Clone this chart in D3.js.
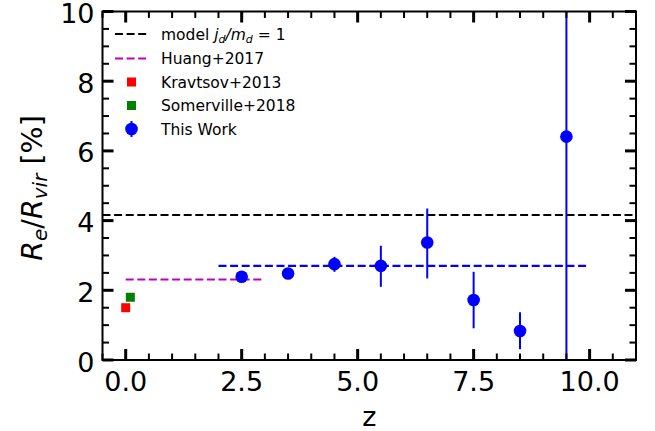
<!DOCTYPE html>
<html>
<head>
<meta charset="utf-8">
<script src="https://cdn.jsdelivr.net/npm/d3@7"></script>
<style>
  html, body { margin: 0; padding: 0; background: #fff; }
  svg { display: block; font-family: "DejaVu Sans", sans-serif; }
</style>
</head>
<body>
<script>
// Redshift bins and measured effective-to-virial radius ratio (%)
const zBins = [2.5, 3.5, 4.5, 5.5, 6.5, 7.5, 8.5, 9.5];
const ratio = [2.39, 2.48, 2.75, 2.70, 3.37, 1.72, 0.83, 6.41];
const errLow = [0.10, 0.10, 0.22, 0.60, 1.03, 0.81, 0.52, 6.6];
const errHigh = [0.10, 0.10, 0.21, 0.58, 0.98, 0.81, 0.54, 6.0];

// Reference values from the literature
const kravtsov = [{ z: 0.0, r: 1.50 }];
const somerville = [{ z: 0.1, r: 1.80 }];
const huangLine = [{ z: 0.0, r: 2.31 }, { z: 3.0, r: 2.31 }];
const modelLine = [{ z: -0.5, r: 4.16 }, { z: 11.0, r: 4.16 }];
const meanLine = [{ z: 2.0, r: 2.70 }, { z: 10.0, r: 2.70 }];

const xTicks = [0, 2.5, 5, 7.5, 10];
const xTickLabels = ["0.0", "2.5", "5.0", "7.5", "10.0"];
const yTicks = [0, 2, 4, 6, 8, 10];
const yTickLabels = ["0", "2", "4", "6", "8", "10"];

const W = 655, H = 431;
const pL = 102.5, pR = 636, pT = 11.5, pB = 360;
const dash = "8,3.6";

const svg = d3.select("body").append("svg").attr("width", W).attr("height", H);

const x = d3.scaleLinear().domain([-0.5, 11]).range([pL, pR]);
const y = d3.scaleLinear().domain([0, 10]).range([pB, pT]);

svg.append("clipPath").attr("id", "plot")
  .append("rect").attr("x", pL).attr("y", pT)
  .attr("width", pR - pL).attr("height", pB - pT);

const plot = svg.append("g").attr("clip-path", "url(#plot)");
const line = d3.line().x(d => x(d.z)).y(d => y(d.r));

// Horizontal reference lines
plot.append("path").datum(modelLine).attr("d", line)
  .attr("fill", "none").attr("stroke", "#000").attr("stroke-width", 2.1)
  .attr("stroke-dasharray", dash);
plot.append("path").datum(huangLine).attr("d", line)
  .attr("fill", "none").attr("stroke", "#bf00bf").attr("stroke-width", 2.1)
  .attr("stroke-dasharray", dash);
plot.append("path").datum(meanLine).attr("d", line)
  .attr("fill", "none").attr("stroke", "#0000ff").attr("stroke-width", 2.1)
  .attr("stroke-dasharray", dash);

// Literature squares
const sq = 9;
plot.selectAll("rect.krav").data(kravtsov).join("rect").attr("class", "krav")
  .attr("x", d => x(d.z) - sq / 2).attr("y", d => y(d.r) - sq / 2)
  .attr("width", sq).attr("height", sq).attr("fill", "#ff0000");
plot.selectAll("rect.som").data(somerville).join("rect").attr("class", "som")
  .attr("x", d => x(d.z) - sq / 2).attr("y", d => y(d.r) - sq / 2)
  .attr("width", sq).attr("height", sq).attr("fill", "#008000");

// Measurements with error bars
const pts = zBins.map((z, i) => ({ z, r: ratio[i], lo: ratio[i] - errLow[i], hi: ratio[i] + errHigh[i] }));
plot.selectAll("line.err").data(pts).join("line").attr("class", "err")
  .attr("x1", d => x(d.z)).attr("x2", d => x(d.z))
  .attr("y1", d => y(d.lo)).attr("y2", d => y(d.hi))
  .attr("stroke", "#0000ff").attr("stroke-width", 2);
plot.selectAll("circle.pt").data(pts).join("circle").attr("class", "pt")
  .attr("cx", d => x(d.z)).attr("cy", d => y(d.r)).attr("r", 6.3)
  .attr("fill", "#0000ff");

// Frame
svg.append("rect").attr("x", pL).attr("y", pT)
  .attr("width", pR - pL).attr("height", pB - pT)
  .attr("fill", "none").attr("stroke", "#000").attr("stroke-width", 2);

// Inward ticks on all four sides
const ax = svg.append("g").attr("stroke", "#000");
const xMinor = d3.range(-0.5, 11.01, 0.5).filter(v => !xTicks.includes(v));
const yMinor = d3.range(0, 10.01, 0.5).filter(v => !yTicks.includes(v));
const majL = 11, minL = 6.5;
xTicks.forEach(v => {
  ax.append("line").attr("x1", x(v)).attr("x2", x(v)).attr("y1", pB).attr("y2", pB - majL).attr("stroke-width", 3);
  ax.append("line").attr("x1", x(v)).attr("x2", x(v)).attr("y1", pT).attr("y2", pT + majL).attr("stroke-width", 3);
});
xMinor.forEach(v => {
  ax.append("line").attr("x1", x(v)).attr("x2", x(v)).attr("y1", pB).attr("y2", pB - minL).attr("stroke-width", 2);
  ax.append("line").attr("x1", x(v)).attr("x2", x(v)).attr("y1", pT).attr("y2", pT + minL).attr("stroke-width", 2);
});
yTicks.forEach(v => {
  ax.append("line").attr("y1", y(v)).attr("y2", y(v)).attr("x1", pL).attr("x2", pL + majL).attr("stroke-width", 3);
  ax.append("line").attr("y1", y(v)).attr("y2", y(v)).attr("x1", pR).attr("x2", pR - majL).attr("stroke-width", 3);
});
yMinor.forEach(v => {
  ax.append("line").attr("y1", y(v)).attr("y2", y(v)).attr("x1", pL).attr("x2", pL + minL).attr("stroke-width", 2);
  ax.append("line").attr("y1", y(v)).attr("y2", y(v)).attr("x1", pR).attr("x2", pR - minL).attr("stroke-width", 2);
});

// Tick labels
const tickFont = 27;
svg.selectAll("text.xt").data(xTicks).join("text").attr("class", "xt")
  .attr("x", d => x(d)).attr("y", 391).attr("text-anchor", "middle")
  .attr("font-size", tickFont).text((d, i) => xTickLabels[i]);
svg.selectAll("text.yt").data(yTicks).join("text").attr("class", "yt")
  .attr("x", pL - 8).attr("y", d => y(d) + 11.5).attr("text-anchor", "end")
  .attr("font-size", tickFont).text((d, i) => yTickLabels[i]);

// Axis labels
svg.append("text").attr("x", (pL + pR) / 2).attr("y", 426)
  .attr("text-anchor", "middle").attr("font-size", tickFont).text("z");
const yl = svg.append("text").attr("transform", `translate(42,188) rotate(-90)`)
  .attr("text-anchor", "middle").attr("font-size", 28.5);
yl.append("tspan").attr("font-style", "italic").text("R");
yl.append("tspan").attr("font-style", "italic").attr("font-size", 20).attr("dy", 5).text("e");
yl.append("tspan").attr("dy", -5).text("/");
yl.append("tspan").attr("font-style", "italic").text("R");
yl.append("tspan").attr("font-style", "italic").attr("font-size", 20).attr("dy", 5).text("vir");
yl.append("tspan").attr("dy", -5).text(" [%]");

// Legend
const lg = svg.append("g");
const lgFont = 15.5;
const rowY = [34, 58.5, 82, 105.5, 129];
const lx0 = 115, lx1 = 147, tx = 161;
["#000", "#bf00bf"].forEach((c, i) => {
  lg.append("line").attr("x1", lx0).attr("x2", lx1).attr("y1", rowY[i]).attr("y2", rowY[i])
    .attr("stroke", c).attr("stroke-width", 2.1).attr("stroke-dasharray", dash);
});
lg.append("rect").attr("x", 131.5 - sq / 2).attr("y", rowY[2] - sq / 2).attr("width", sq).attr("height", sq).attr("fill", "#ff0000");
lg.append("rect").attr("x", 131.5 - sq / 2).attr("y", rowY[3] - sq / 2).attr("width", sq).attr("height", sq).attr("fill", "#008000");
lg.append("line").attr("x1", 131.5).attr("x2", 131.5).attr("y1", rowY[4] - 8).attr("y2", rowY[4] + 8)
  .attr("stroke", "#0000ff").attr("stroke-width", 2);
lg.append("circle").attr("cx", 131.5).attr("cy", rowY[4]).attr("r", 6.3).attr("fill", "#0000ff");

const t0 = lg.append("text").attr("x", tx).attr("y", rowY[0] + 5.5).attr("font-size", lgFont);
t0.append("tspan").text("model ");
t0.append("tspan").attr("font-style", "italic").text("j");
t0.append("tspan").attr("font-style", "italic").attr("font-size", 11).attr("dy", 3).text("d");
t0.append("tspan").attr("dy", -3).attr("font-style", "italic").text("/m");
t0.append("tspan").attr("font-style", "italic").attr("font-size", 11).attr("dy", 3).text("d");
t0.append("tspan").attr("dy", -3).text(" = 1");
["Huang+2017", "Kravtsov+2013", "Somerville+2018", "This Work"].forEach((s, i) => {
  lg.append("text").attr("x", tx).attr("y", rowY[i + 1] + 5.5).attr("font-size", lgFont).text(s);
});
</script>
</body>
</html>
